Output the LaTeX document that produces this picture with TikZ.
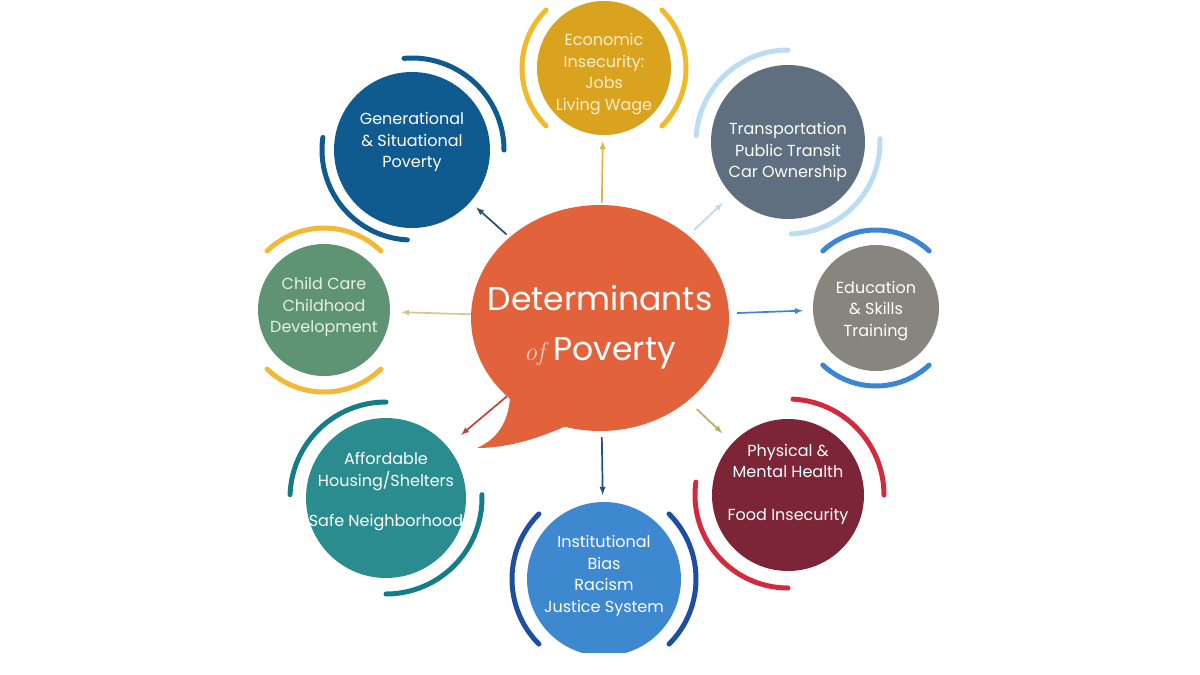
\documentclass[tikz,border=0pt]{standalone}
\usepackage{fontspec}
\setmainfont{Poppins}
\newfontfamily\offont{Latin Modern Roman}
\usepackage{tikz}
\usetikzlibrary{shapes.geometric}

\definecolor{bubbleC}{HTML}{E2623B}
\definecolor{ofC}{HTML}{F6CDB9}
\definecolor{ecoC}{HTML}{D9A21F}
\definecolor{ecoR}{HTML}{F2B92A}
\definecolor{ecoT}{HTML}{FBF0C8}
\definecolor{ecoA}{HTML}{D9B548}
\definecolor{tranC}{HTML}{5F6F7F}
\definecolor{tranR}{HTML}{BBDCF3}
\definecolor{tranA}{HTML}{BCD9EF}
\definecolor{eduC}{HTML}{88857F}
\definecolor{eduR}{HTML}{3D85D2}
\definecolor{healC}{HTML}{7C2536}
\definecolor{healR}{HTML}{D22B3D}
\definecolor{healA}{HTML}{B7AE6A}
\definecolor{biasC}{HTML}{3E88CF}
\definecolor{biasR}{HTML}{1E4EA2}
\definecolor{biasA}{HTML}{214E86}
\definecolor{housC}{HTML}{2B8C90}
\definecolor{housR}{HTML}{147D8A}
\definecolor{housA}{HTML}{C7403C}
\definecolor{careC}{HTML}{5E9474}
\definecolor{careR}{HTML}{F3B935}
\definecolor{careA}{HTML}{D6C58E}
\definecolor{careT}{HTML}{E9F1DE}
\definecolor{genC}{HTML}{0F5B90}
\definecolor{genA}{HTML}{22506E}

% arc beside a topic circle: node, colour, radius, start, end
\newcommand{\topicarc}[5]{\draw[arcline,#2] (#1.center) ++(#4:#3) arc[start angle=#4,end angle=#5,radius=#3];}

\begin{document}
\begin{tikzpicture}[x=1pt,y=-1pt,>=latex,
  topic/.style={circle, inner sep=0pt},
  topictext/.style={text=white, align=center, font=\fontsize{16}{21.5}\selectfont},
  arcline/.style={line width=5, line cap=round},
  link/.style={->, line width=1.7}]
  \useasboundingbox (0,0) rectangle (1200,675);
  \clip (0,0) rectangle (1200,652);

  % centre bubble
  \node[ellipse, fill=bubbleC, minimum width=258, minimum height=226, inner sep=0pt,
        label={[text=white, align=center, font=\fontsize{33}{50}\selectfont, yshift=-9pt]center:{Determinants\\{\offont\itshape\fontsize{26}{26}\selectfont\color{ofC}of} Poverty}}] (det) at (600,318) {};
  \fill[bubbleC] (510,398) .. controls (508,425) and (495,440) .. (477,448)
        .. controls (505,448) and (535,440) .. (566,426) -- (560,400) -- cycle;

  % topics
  \node[topic, fill=ecoC, minimum size=134,
        label={[topictext, text=ecoT, yshift=-6pt]center:{Economic\\Insecurity:\\Jobs\\Living Wage}}] (eco) at (604,68) {};
  \node[topic, fill=tranC, minimum size=154,
        label={[topictext, yshift=-10pt]center:{Transportation\\Public Transit\\Car Ownership}}] (tran) at (788,142) {};
  \node[topic, fill=eduC, minimum size=126,
        label={[topictext, yshift=-3pt]center:{Education\\\& Skills\\Training}}] (edu) at (876,308) {};
  \node[topic, fill=healC, minimum size=152,
        label={[topictext, yshift=11pt]center:{Physical \&\\Mental Health\\[21pt]Food Insecurity}}] (heal) at (788,495) {};
  \node[topic, fill=biasC, minimum size=154,
        label={[topictext, yshift=3pt]center:{Institutional\\Bias\\Racism\\Justice System}}] (bias) at (604,579) {};
  \node[topic, fill=housC, minimum size=160,
        label={[topictext, yshift=6pt]center:{Affordable\\Housing/Shelters\\[19pt]Safe Neighborhood}}] (hous) at (386,498) {};
  \node[topic, fill=careC, minimum size=132,
        label={[topictext, text=careT, yshift=3pt]center:{Child Care\\Childhood\\Development}}] (care) at (324,310) {};
  \node[topic, fill=genC, minimum size=156,
        label={[topictext, yshift=8pt]center:{Generational\\\& Situational\\Poverty}}] (gen) at (412,150) {};

  % arcs
  \topicarc{eco}{ecoR}{82}{-135}{-225}
  \topicarc{eco}{ecoR}{82}{-45}{45}
  \topicarc{tran}{tranR}{92}{-90}{-176}
  \topicarc{tran}{tranR}{92}{-2}{88}
  \topicarc{edu}{eduR}{78}{-47}{-133}
  \topicarc{edu}{eduR}{78}{47}{133}
  \topicarc{heal}{healR}{96}{-87}{0}
  \topicarc{heal}{healR}{93}{-172}{-270}
  \topicarc{bias}{biasR}{92}{-135}{-225}
  \topicarc{bias}{biasR}{92}{-45}{45}
  \topicarc{hous}{housR}{96}{-90}{-178}
  \topicarc{hous}{housR}{96}{-2}{90}
  \topicarc{care}{careR}{82}{-46}{-134}
  \topicarc{care}{careR}{82}{46}{134}
  \topicarc{gen}{genC}{90}{-172}{-267}
  \topicarc{gen}{genC}{92}{-95}{0}

  % links
  \draw[link, ecoA, shorten <=2, shorten >=6] (det) -- (eco);
  \draw[link, tranA, shorten <=8, shorten >=12] (det) -- (tran);
  \draw[link, eduR, shorten <=8, shorten >=10] (det) -- (edu);
  \draw[link, healA, shorten <=12, shorten >=14] (det) -- (heal);
  \draw[link, biasA, shorten <=6, shorten >=7] (det) -- (bias);
  \draw[link, housA, shorten >=18] (det) -- (hous);
  \draw[link, careA, shorten >=11] (det) -- (care);
  \draw[link, genA, shorten <=4, shorten >=8] (det) -- (gen);
\end{tikzpicture}
\end{document}
